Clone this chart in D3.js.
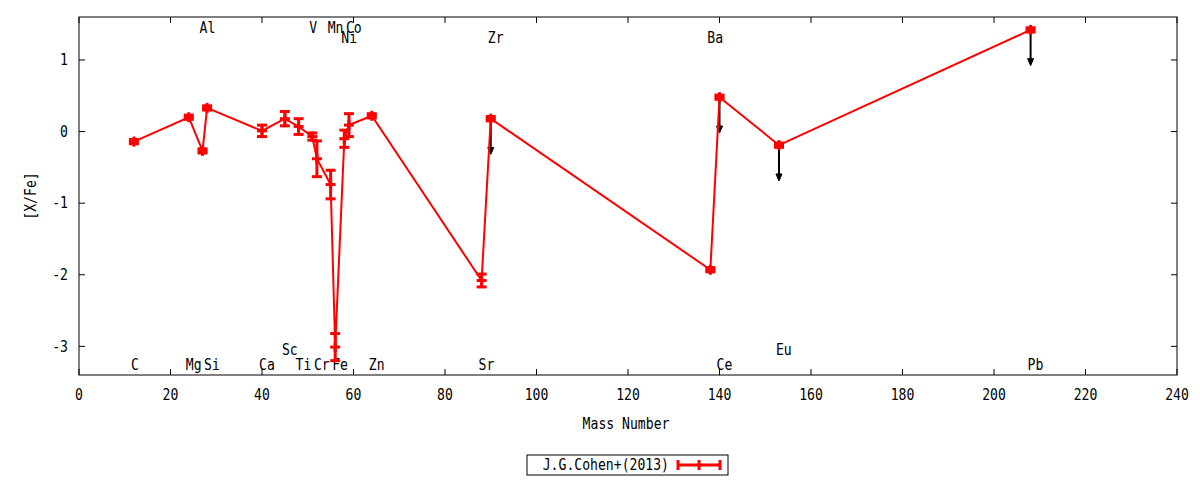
<!DOCTYPE html>
<html>
<head>
<meta charset="utf-8">
<script src="https://cdn.jsdelivr.net/npm/d3@7"></script>
<style>
  body { margin: 0; background: #fff; }
  text { font-family: "DejaVu Sans Mono", monospace; font-size: 15px; fill: #000; }
</style>
</head>
<body>
<div id="chart"></div>
<script>
// abundances
const elements = ["C", "Mg", "Al", "Si", "Ca", "Sc", "Ti", "V", "Cr", "Mn", "Fe", "Ni", "Co", "Zn", "Sr", "Zr", "Ba", "Ce", "Eu", "Pb"];
const massNumber = [12, 24, 27, 28, 40, 45, 48, 51, 52, 55, 56, 58, 59, 64, 88, 90, 138, 140, 153, 208];
const xFe = [-0.14, 0.20, -0.27, 0.33, 0.01, 0.18, 0.07, -0.07, -0.38, -0.74, -3.01, -0.10, 0.09, 0.22, -2.08, 0.18, -1.93, 0.48, -0.19, 1.42];
const xFeErr = [0.03, 0.03, 0.03, 0.03, 0.08, 0.10, 0.11, 0.05, 0.25, 0.20, 0.19, 0.12, 0.16, 0.03, 0.09, 0.03, 0.03, 0.03, 0.03, 0.03];
const upperLimit = ["Zr", "Ce", "Eu", "Pb"];
const labelRow = [-3.25, -3.25, 1.45, -3.25, -3.25, -3.05, -3.25, 1.45, -3.25, 1.45, -3.25, 1.31, 1.45, -3.25, -3.25, 1.31, 1.31, -3.25, -3.05, -3.25];
const xTicks = [0, 20, 40, 60, 80, 100, 120, 140, 160, 180, 200, 220, 240];
const yTicks = [-3, -2, -1, 0, 1];
const legendLabel = "J.G.Cohen+(2013)";

const width = 1200, height = 480;
const margin = {top: 17, right: 23, bottom: 105, left: 79};
const sx = 0.875;

const svg = d3.select("#chart").append("svg")
    .attr("width", width)
    .attr("height", height);

const x = d3.scaleLinear().domain([0, 240]).range([margin.left, width - margin.right]);
const y = d3.scaleLinear().domain([-3.4, 1.6]).range([height - margin.bottom, margin.top]);

const points = elements.map((el, i) => ({el: el, m: massNumber[i], v: xFe[i], e: xFeErr[i], row: labelRow[i]}));

function label(sel, tx, ty, str, anchor, rot) {
    sel.append("text")
        .attr("transform", `translate(${tx},${ty})` + (rot ? ` rotate(${rot})` : "") + ` scale(${sx},1)`)
        .attr("text-anchor", anchor)
        .attr("dominant-baseline", "central")
        .text(str);
}

// frame and ticks (mirrored on all sides)
const x0 = x.range()[0], x1 = x.range()[1], y0 = y.range()[0], y1 = y.range()[1];
svg.append("rect")
    .attr("x", x0).attr("y", y1)
    .attr("width", x1 - x0).attr("height", y0 - y1)
    .attr("fill", "none").attr("stroke", "#000").attr("stroke-width", 1);

const ticks = svg.append("g").attr("stroke", "#000").attr("stroke-width", 1);
xTicks.forEach(t => {
    ticks.append("line").attr("x1", x(t)).attr("x2", x(t)).attr("y1", y0).attr("y2", y0 - 6);
    ticks.append("line").attr("x1", x(t)).attr("x2", x(t)).attr("y1", y1).attr("y2", y1 + 6);
    label(svg, x(t), y0 + 20, String(t), "middle");
});
yTicks.forEach(t => {
    ticks.append("line").attr("x1", x0).attr("x2", x0 + 6).attr("y1", y(t)).attr("y2", y(t));
    ticks.append("line").attr("x1", x1).attr("x2", x1 - 6).attr("y1", y(t)).attr("y2", y(t));
    label(svg, x0 - 11, y(t), String(t), "end");
});

label(svg, (x0 + x1) / 2 - 2, 424, "Mass Number", "middle");
label(svg, 31, 196, "[X/Fe]", "middle", -90);

// element names
points.forEach(p => label(svg, x(p.m) - 3, y(p.row), p.el, "start"));

// upper limit arrows
const arrows = svg.append("g");
points.filter(p => upperLimit.includes(p.el)).forEach(p => {
    const tip = y(p.v - 0.5);
    arrows.append("line")
        .attr("x1", x(p.m)).attr("x2", x(p.m))
        .attr("y1", y(p.v)).attr("y2", tip - 5)
        .attr("stroke", "#000").attr("stroke-width", 2);
    arrows.append("path")
        .attr("d", `M${x(p.m) - 3},${tip - 7}L${x(p.m) + 3},${tip - 7}L${x(p.m)},${tip}Z`)
        .attr("fill", "#000").attr("stroke", "#000").attr("stroke-width", 1);
});

// the line
const line = d3.line().x(d => x(d.m)).y(d => y(d.v));
svg.append("path")
    .datum(points)
    .attr("d", line)
    .attr("fill", "none")
    .attr("stroke", "#f00")
    .attr("stroke-width", 2);

// error bars and markers
const marks = svg.append("g").attr("stroke", "#f00").attr("stroke-width", 3).attr("fill", "none");
points.forEach(p => {
    const cx = x(p.m), top = y(p.v + p.e), bot = y(p.v - p.e);
    marks.append("line").attr("x1", cx).attr("x2", cx).attr("y1", top).attr("y2", bot);
    marks.append("line").attr("x1", cx - 5).attr("x2", cx + 5).attr("y1", top).attr("y2", top);
    marks.append("line").attr("x1", cx - 5).attr("x2", cx + 5).attr("y1", bot).attr("y2", bot);
    marks.append("line").attr("x1", cx - 5).attr("x2", cx + 5).attr("y1", y(p.v)).attr("y2", y(p.v));
    marks.append("line").attr("x1", cx).attr("x2", cx).attr("y1", y(p.v) - 5).attr("y2", y(p.v) + 5);
});

// legend
const lg = svg.append("g");
lg.append("rect")
    .attr("x", 527).attr("y", 455).attr("width", 201).attr("height", 20)
    .attr("fill", "none").attr("stroke", "#000").attr("stroke-width", 1);
label(lg, 669, 465, legendLabel, "end");
const lm = lg.append("g").attr("stroke", "#f00").attr("stroke-width", 3);
lm.append("line").attr("x1", 678).attr("x2", 720).attr("y1", 465).attr("y2", 465);
[678, 720].forEach(cx => lm.append("line").attr("x1", cx).attr("x2", cx).attr("y1", 460).attr("y2", 470));
lm.append("line").attr("x1", 699).attr("x2", 699).attr("y1", 460).attr("y2", 470);
</script>
</body>
</html>
